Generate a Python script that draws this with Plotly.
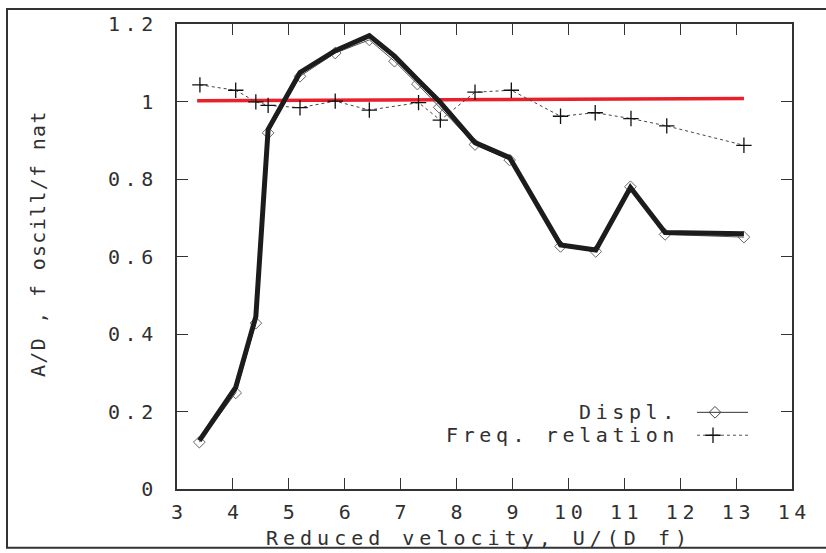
import plotly.graph_objects as go

# Measured response versus reduced velocity
displ_x = [3.40, 4.05, 4.41, 4.63, 5.20, 5.83, 6.44, 6.89, 7.30, 7.69, 8.33, 8.95, 9.86, 10.49, 11.11, 11.73, 13.14]
displ_y = [0.121, 0.248, 0.428, 0.919, 1.065, 1.125, 1.159, 1.104, 1.045, 0.985, 0.889, 0.849, 0.626, 0.613, 0.780, 0.657, 0.650]

# Bold trace drawn over the displacement points
bold_y = [0.125, 0.262, 0.445, 0.928, 1.075, 1.131, 1.170, 1.117, 1.057, 1.001, 0.894, 0.855, 0.630, 0.617, 0.778, 0.662, 0.659]

freq_x = [3.41, 4.05, 4.41, 4.63, 5.20, 5.83, 6.44, 7.32, 7.71, 8.33, 8.98, 9.86, 10.48, 11.12, 11.76, 13.14]
freq_y = [1.043, 1.029, 0.999, 0.990, 0.984, 1.001, 0.978, 0.997, 0.952, 1.024, 1.029, 0.962, 0.971, 0.956, 0.937, 0.887]

# Unit reference line
ref_x = [3.36, 13.14]
ref_y = [1.002, 1.008]

x_ticks = [3, 4, 5, 6, 7, 8, 9, 10, 11, 12, 13, 14]
x_tick_labels = ["3", "4", "5", "6", "7", "8", "9", "10", "11", "12", "13", "14"]
y_ticks = [0, 0.2, 0.4, 0.6, 0.8, 1.0, 1.2]
y_tick_labels = ["0", "0.2", "0.4", "0.6", "0.8", "1", "1.2"]

x_title = "Reduced velocity, U/(D f)"
y_title = "A/D , f oscill/f nat"
legend_names = ["Displ.", "Freq. relation"]

W, H = 826, 553
L, R, T, B = 177, 34, 22, 64
FONT = "DejaVu Sans Mono"
FS = 20
INK = "#303030"


def spaced(s, ls):
    """Wide letter spacing, leaving the last glyph unpadded so anchors stay exact."""
    if len(s) <= 1:
        return s
    return f'<span style="letter-spacing:{ls}px">{s[:-1]}</span>{s[-1]}'


def px_to_paper(px, py):
    return (px - L) / (W - L - R), (H - B - py) / (H - T - B)


fig = go.Figure()

fig.add_trace(go.Scatter(x=ref_x, y=ref_y, mode="lines",
                         line=dict(color="#e8202a", width=3.5), showlegend=False))
fig.add_trace(go.Scatter(x=freq_x, y=freq_y, mode="lines+markers",
                         line=dict(color="#444444", width=1, dash="dot"),
                         marker=dict(symbol="cross-thin", size=11,
                                     line=dict(color="#111111", width=1.3)),
                         showlegend=False))
fig.add_trace(go.Scatter(x=displ_x, y=displ_y, mode="lines+markers",
                         line=dict(color="#555555", width=1),
                         marker=dict(symbol="diamond-open", size=9, color="#666666",
                                     line=dict(color="#666666", width=1)),
                         showlegend=False))
fig.add_trace(go.Scatter(x=displ_x, y=bold_y, mode="lines",
                         line=dict(color="#1c1c1c", width=5), showlegend=False))

# Key samples, placed on a pixel-unit overlay
key_rows = [412, 435]
fig.add_trace(go.Scatter(x=[697, 748], y=[key_rows[0]] * 2, mode="lines",
                         line=dict(color="#333333", width=1), xaxis="x2", yaxis="y2",
                         showlegend=False, hoverinfo="skip"))
fig.add_trace(go.Scatter(x=[715], y=[key_rows[0]], mode="markers",
                         marker=dict(symbol="diamond-open", size=9, color="#444444",
                                     line=dict(color="#444444", width=1)),
                         xaxis="x2", yaxis="y2", showlegend=False, hoverinfo="skip"))
fig.add_trace(go.Scatter(x=[697, 748], y=[key_rows[1]] * 2, mode="lines",
                         line=dict(color="#555555", width=1, dash="dot"), xaxis="x2", yaxis="y2",
                         showlegend=False, hoverinfo="skip"))
fig.add_trace(go.Scatter(x=[713], y=[key_rows[1]], mode="markers",
                         marker=dict(symbol="cross-thin", size=11,
                                     line=dict(color="#111111", width=1.3)),
                         xaxis="x2", yaxis="y2", showlegend=False, hoverinfo="skip"))

annotations = []
for name, row in zip(legend_names, key_rows):
    annotations.append(dict(text=spaced(name, 4.6), x=676, y=row, xref="x2", yref="y2",
                            xanchor="right", yanchor="middle", showarrow=False,
                            font=dict(family=FONT, size=FS, color=INK)))

ax, ay = px_to_paper(476, 538)
annotations.append(dict(text=spaced(x_title, 5.0), x=ax, y=ay, xref="paper", yref="paper",
                        xanchor="center", yanchor="middle", showarrow=False,
                        font=dict(family=FONT, size=FS, color=INK)))
ax, ay = px_to_paper(38, 243)
annotations.append(dict(text=spaced(y_title, 1.3), x=ax, y=ay, xref="paper", yref="paper",
                        xanchor="center", yanchor="middle", showarrow=False, textangle=-90,
                        font=dict(family=FONT, size=FS, color=INK)))

# Outer frame: left, top and bottom edges
fx0, fy0 = px_to_paper(7, 7)
fx1, fy1 = px_to_paper(W + 2, 548)
shapes = [dict(type="path", xref="paper", yref="paper",
               path=f"M {fx1},{fy0} L {fx0},{fy0} L {fx0},{fy1} L {fx1},{fy1}",
               line=dict(color="#333333", width=2))]

axis_common = dict(showline=True, linecolor="#333333", linewidth=1.5, mirror="ticks",
                   ticks="inside", ticklen=11, tickwidth=1.2, tickcolor="#333333",
                   showgrid=False, zeroline=False,
                   tickfont=dict(family=FONT, size=FS, color=INK))

fig.update_layout(
    width=W, height=H,
    margin=dict(l=L, r=R, t=T, b=B),
    paper_bgcolor="white", plot_bgcolor="white",
    xaxis=dict(range=[3, 14], tickvals=x_ticks,
               ticktext=[spaced(t, 4.6) for t in x_tick_labels],
               ticklabelstandoff=4, **axis_common),
    yaxis=dict(range=[0, 1.2], tickvals=y_ticks,
               ticktext=[spaced(t, 4.6) for t in y_tick_labels],
               ticklabelstandoff=18, **axis_common),
    xaxis2=dict(overlaying="x", range=[L, W - R], visible=False, fixedrange=True),
    yaxis2=dict(overlaying="y", range=[H - B, T], visible=False, fixedrange=True),
    annotations=annotations,
    shapes=shapes,
    showlegend=False,
)

fig.write_html("out.html")
